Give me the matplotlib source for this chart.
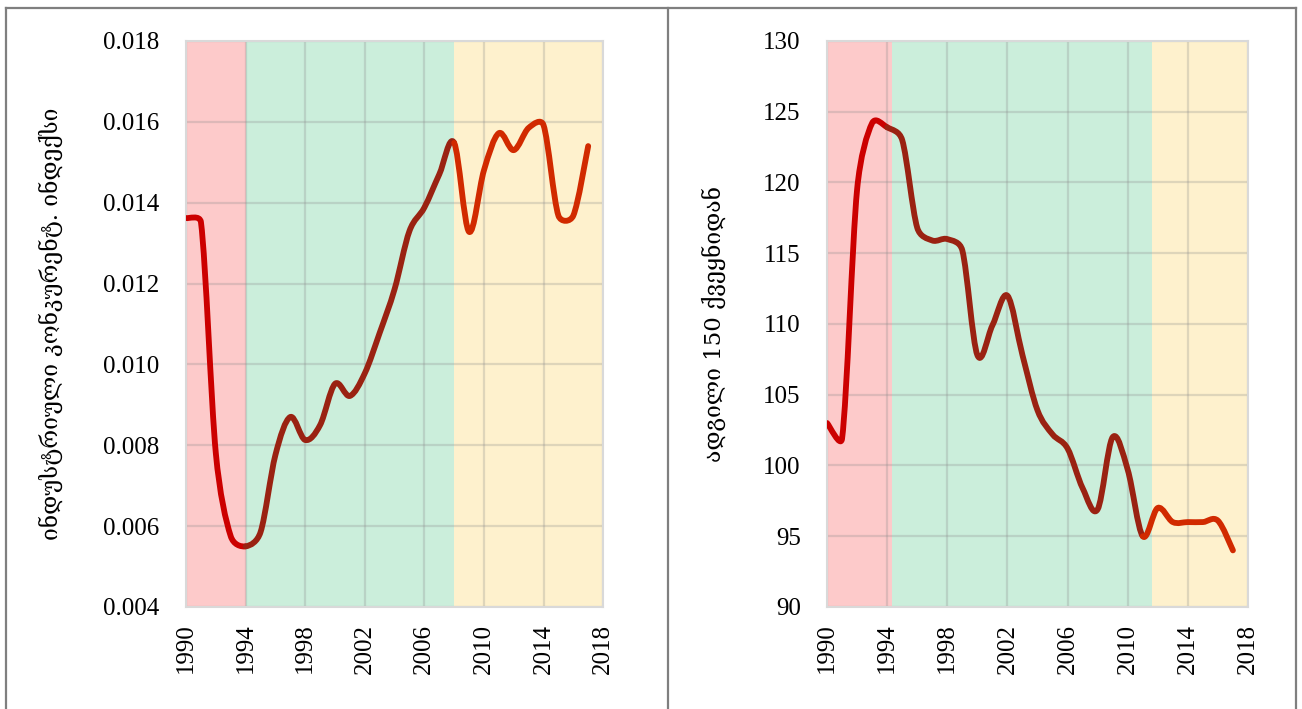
import numpy as np
import matplotlib.pyplot as plt
from matplotlib.path import Path
from matplotlib.patches import PathPatch
from matplotlib.lines import Line2D

years = list(range(1990, 2018))

# industrial competitiveness index
competitiveness = [0.01362, 0.01352, 0.00780, 0.00575, 0.00550, 0.00585,
                   0.00776, 0.00870, 0.00813, 0.00850, 0.00952, 0.00922,
                   0.00978, 0.01078, 0.01186, 0.01330, 0.01388, 0.01470,
                   0.01548, 0.01328, 0.01480, 0.01572, 0.01530, 0.01585,
                   0.01592, 0.01368, 0.01368, 0.01540]

# place among 150 countries
rank = [103.0, 101.9, 119.5, 124.2, 123.9, 123.0, 116.8, 115.9, 116.0, 115.2,
        107.8, 109.9, 112.0, 107.8, 103.9, 102.2, 101.2, 98.4, 96.9, 102.0,
        99.7, 95.0, 97.0, 96.0, 96.0, 96.0, 96.1, 94.0]

left_periods = [1990, 1994, 2008, 2018]
right_periods = [1990, 1994.3, 2011.6, 2018]
left_breaks = [1990, 1994, 2008, 2017]
right_breaks = [1990, 1994, 2011, 2017]

span_colors = ['#FDCACA', '#CBEEDB', '#FEF1CD']
line_colors = ['#CC0000', '#9A2212', '#D12A00']

plt.rcParams['font.family'] = ['Liberation Serif', 'DejaVu Serif', 'DejaVu Sans']


def smooth_path(x, y, i0, i1, sx, sy):
    # excel-like smoothed line: catmull-rom arms, capped by the segment length on screen
    P = np.column_stack([np.asarray(x, float) * sx, np.asarray(y, float) * sy])
    n = len(P)
    tang = [(P[min(i + 1, n - 1)] - P[max(i - 1, 0)]) / 6 for i in range(n)]
    verts = [tuple(P[i0])]
    codes = [Path.MOVETO]
    for i in range(i0, i1):
        L = np.hypot(*(P[i + 1] - P[i])) * 0.5
        a = tang[i]
        b = tang[i + 1]
        na, nb = np.hypot(*a), np.hypot(*b)
        if na > L:
            a = a * L / na
        if nb > L:
            b = b * L / nb
        verts += [tuple(P[i] + a), tuple(P[i + 1] - b), tuple(P[i + 1])]
        codes += [Path.CURVE4] * 3
    v = np.array(verts)
    v[:, 0] /= sx
    v[:, 1] /= sy
    return Path(v, codes)


def draw_panel(ax, values, periods, breaks, ylim, yticks, fmt, ylabel, label_x, lsize):
    ax.set_axisbelow(True)
    for k in range(3):
        ax.axvspan(periods[k], periods[k + 1], color=span_colors[k], lw=0, zorder=0.2)
    bbox = ax.get_position()
    sx = bbox.width * 1302 / 28
    sy = bbox.height * 709 / (ylim[1] - ylim[0])
    for k in range(3):
        i0 = years.index(breaks[k])
        i1 = years.index(breaks[k + 1])
        p = smooth_path(years, values, i0, i1, sx, sy)
        ax.add_patch(PathPatch(p, fill=False, edgecolor=line_colors[k], lw=4.2,
                               capstyle='round', joinstyle='round', zorder=3))
    ax.set_xlim(1990, 2018)
    ax.set_ylim(*ylim)
    ax.set_xticks(range(1990, 2019, 4))
    ax.set_yticks(yticks)
    ax.set_yticklabels([fmt.format(v) for v in yticks])
    ax.tick_params(axis='x', length=0, pad=12, labelsize=18, rotation=90)
    ax.tick_params(axis='y', length=0, pad=19, labelsize=18)
    ax.grid(True, color='#8A8A8A', alpha=0.27, lw=1.6)
    for s in ax.spines.values():
        s.set_color('#D9D9D9')
        s.set_linewidth(1.5)
    ax.set_ylabel(ylabel, fontsize=lsize, family=['DejaVu Serif', 'DejaVu Sans'])
    ax.yaxis.set_label_coords(label_x, 0.5)


fig = plt.figure(figsize=(13.02, 7.09), dpi=100)
ax1 = fig.add_axes([0.1429, 0.1439, 0.3203, 0.7983])
ax2 = fig.add_axes([0.6352, 0.1439, 0.3233, 0.7983])

draw_panel(ax1, competitiveness, left_periods, left_breaks, (0.004, 0.018),
           np.arange(0.004, 0.0181, 0.002), '{:.3f}',
           'ინდუსტრიული კონკურენტ. ინდექსი', -0.295, 16.5)
draw_panel(ax2, rank, right_periods, right_breaks, (90, 130),
           range(90, 131, 5), '{:d}', 'ადგილი 150 ქვეყნიდან', -0.24, 16.5)

# table-like frame around the two panels
W, H = 1302, 709
frame = dict(color='#7F7F7F', lw=1.6, transform=fig.transFigure)
fig.add_artist(Line2D([6 / W, 1296 / W], [1 - 8 / H, 1 - 8 / H], **frame))
for xp in [6, 668, 1296]:
    fig.add_artist(Line2D([xp / W, xp / W], [0, 1 - 8 / H], **frame))

fig.savefig('out.png', dpi=100)
